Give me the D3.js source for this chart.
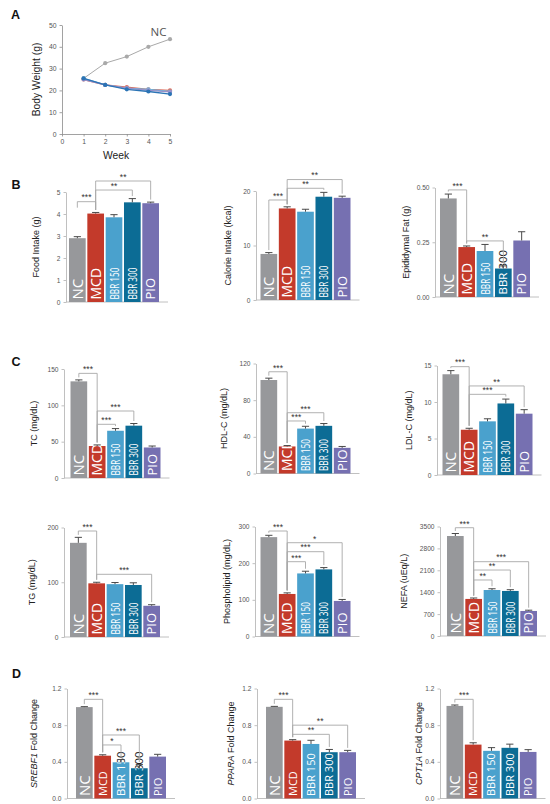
<!DOCTYPE html>
<html><head><meta charset="utf-8">
<script src="https://cdn.jsdelivr.net/npm/d3@7/dist/d3.min.js"></script>
<style>body{margin:0;background:#fff}svg{display:block}</style>
</head><body>
<svg id="fig" width="550" height="804"></svg>
<script>
// ---------- DATA ----------
const groups = ["NC", "MCD", "BBR 150", "BBR 300", "PIO"];

// Panel A: body weight by week
const weeks = [1, 2, 3, 4, 5];
const bwNC = [25.5, 32.5, 35.5, 40, 43.5];
const bwMCD = [25, 22.5, 21.5, 20.5, 20];
const bwBBR150 = [25.5, 22.5, 21, 20.5, 19.5];
const bwBBR300 = [25.5, 22.5, 20.5, 19.5, 18.3];
const bwPIO = [25, 22.5, 21, 20, 19.3];
const bwYTicks = [0, 10, 20, 30, 40, 50];
const bwXTicks = [0, 1, 2, 3, 4, 5];

// Panel B
const foodIntake = [2.9, 4.02, 3.85, 4.53, 4.49];
const foodIntakeErr = [0.07, 0.05, 0.12, 0.17, 0.05];
const foodIntakeSig = [["NC", "MCD", "***", 4.56, 6], ["MCD", "BBR 300", "**", 5.09], ["MCD", "PIO", "**", 5.5]];
const foodTicks = [0, 1, 2, 3, 4, 5];

const calorieIntake = [8.45, 16.8, 16.2, 18.95, 18.75];
const calorieIntakeErr = [0.25, 0.3, 0.45, 0.8, 0.3];
const calorieIntakeSig = [["NC", "MCD", "***", 18.35], ["MCD", "BBR 300", "**", 20.5], ["MCD", "PIO", "**", 22.1]];
const calorieTicks = [0, 10, 20];

const epiFat = [0.45, 0.228, 0.21, 0.13, 0.258];
const epiFatErr = [0.02, 0.005, 0.03, 0.012, 0.04];
const epiFatSig = [["NC", "MCD", "***", 0.489], ["MCD", "BBR 300", "**", 0.256]];
const epiTicks = [0, 0.25, 0.5];

// Panel C
const tc = [133, 44, 65, 72, 42];
const tcErr = [2, 1.5, 3, 3, 2];
const tcSig = [["NC", "MCD", "***", 144], ["MCD", "BBR 300", "***", 92.2], ["MCD", "BBR 150", "***", 73.9]];
const tcTicks = [0, 50, 100, 150];

const hdl = [102, 29.5, 49, 52, 28];
const hdlErr = [2, 1, 2.5, 2.5, 1.5];
const hdlSig = [["NC", "MCD", "***", 111], ["MCD", "BBR 300", "***", 66.3], ["MCD", "BBR 150", "***", 57.3]];
const hdlTicks = [0, 40, 80, 120];

const ldl = [13.8, 6.2, 7.35, 9.8, 8.4];
const ldlErr = [0.5, 0.2, 0.35, 0.6, 0.55];
const ldlSig = [["NC", "MCD", "***", 14.84], ["MCD", "PIO", "**", 12.2], ["MCD", "BBR 300", "***", 11.05]];
const ldlTicks = [0, 5, 10, 15];

const tg = [172, 98, 96.5, 95, 57];
const tgErr = [10, 2, 3, 4, 2];
const tgSig = [["NC", "MCD", "***", 193.6], ["MCD", "PIO", "***", 114.5]];
const tgTicks = [0, 100, 200];

const phospholipid = [271, 116, 172, 183, 97];
const phospholipidErr = [5, 3, 6, 5, 4];
const phospholipidSig = [["NC", "MCD", "***", 287.7], ["MCD", "PIO", "*", 255.8], ["MCD", "BBR 300", "***", 231.3], ["MCD", "BBR 150", "***", 204]];
const phospholipidTicks = [0, 100, 200, 300];

const nefa = [3196, 1185, 1470, 1440, 800];
const nefaErr = [80, 30, 40, 40, 25];
const nefaSig = [["NC", "MCD", "***", 3461], ["MCD", "PIO", "***", 2375], ["MCD", "BBR 300", "**", 2109], ["MCD", "BBR 150", "**", 1790]];
const nefaTicks = [0, 700, 1400, 2100, 2800, 3500];

// Panel D
const srebf1 = [0.997, 0.467, 0.395, 0.33, 0.457];
const srebf1Err = [0.005, 0.01, 0.03, 0.04, 0.025];
const srebf1Sig = [["NC", "MCD", "***", 1.082], ["MCD", "BBR 300", "***", 0.693], ["MCD", "BBR 150", "*", 0.584]];
const ppara = [1.0, 0.632, 0.595, 0.505, 0.505];
const pparaErr = [0.005, 0.01, 0.04, 0.03, 0.02];
const pparaSig = [["NC", "MCD", "***", 1.082], ["MCD", "PIO", "**", 0.8], ["MCD", "BBR 300", "**", 0.70]];
const cpt1a = [1.01, 0.588, 0.52, 0.553, 0.508];
const cpt1aErr = [0.01, 0.02, 0.035, 0.04, 0.025];
const cpt1aSig = [["NC", "MCD", "***", 1.082]];
const foldTicks = [0, 0.4, 0.8, 1.2];

// ---------- STYLE ----------
const colors = ["#97989b", "#c33a2b", "#4aa1cd", "#0c6c95", "#7670b1"];
const lineColors = {NC: "#a9a9a9", MCD: "#de6a58", "BBR 150": "#6db5de", "BBR 300": "#2b74b5", PIO: "#9890c9"};
const SANS = "'Liberation Sans', Arial, sans-serif";
const LBL = "'Open Sans', 'Liberation Sans', sans-serif";
const svg = d3.select("#fig");

// panel letters
[["A", 11, 19], ["B", 11.5, 188.5], ["C", 11.5, 366], ["D", 12, 678]].forEach(([t, x, y]) =>
  svg.append("text").attr("x", x).attr("y", y).text(t)
    .attr("font-family", SANS).attr("font-weight", "bold").attr("font-size", 12.5).attr("fill", "#111"));

// ---------- PANEL A ----------
(function () {
  const x = d3.scaleLinear().domain([0, 5]).range([62, 170]);
  const y = d3.scaleLinear().domain([0, 50]).range([134, 25]);
  const gA = svg.append("g");
  const yAx = gA.append("g").attr("transform", `translate(${x(0)},0)`)
    .call(d3.axisLeft(y).tickValues(bwYTicks).tickSize(2.5).tickSizeOuter(0).tickFormat(d3.format("d")));
  const xAx = gA.append("g").attr("transform", `translate(0,${y(0)})`)
    .call(d3.axisBottom(x).tickValues(bwXTicks).tickSize(2.5).tickSizeOuter(0).tickFormat(d3.format("d")));
  [yAx, xAx].forEach(a => {
    a.selectAll("path,line").attr("stroke", "#8a8a8a").attr("stroke-width", 0.8);
    a.selectAll("text").attr("font-family", SANS).attr("font-size", 6.8).attr("fill", "#555");
  });
  const series = [["NC", bwNC], ["MCD", bwMCD], ["BBR 150", bwBBR150], ["PIO", bwPIO], ["BBR 300", bwBBR300]];
  const line = d3.line().x((d, i) => x(weeks[i])).y(d => y(d));
  series.forEach(([name, vals]) => {
    const c = lineColors[name];
    gA.append("path").attr("d", line(vals)).attr("fill", "none").attr("stroke", c).attr("stroke-width", name === "NC" ? 1 : 1.3);
    gA.selectAll(null).data(vals).enter().append("circle")
      .attr("cx", (d, i) => x(weeks[i])).attr("cy", d => y(d)).attr("r", 2.1).attr("fill", c);
  });
  gA.append("text").attr("x", x(4.1)).attr("y", y(44.8)).text("NC")
    .attr("font-family", LBL).attr("font-size", 11.5).attr("fill", "#555");
  gA.append("text").attr("transform", `translate(40,${(y(0) + y(50)) / 2}) rotate(-90)`)
    .attr("text-anchor", "middle").text("Body Weight (g)")
    .attr("font-family", SANS).attr("font-size", 10.3).attr("fill", "#222");
  gA.append("text").attr("x", x(2.5)).attr("y", 158.5).attr("text-anchor", "middle").text("Week")
    .attr("font-family", SANS).attr("font-size", 10.3).attr("fill", "#222");
})();

// ---------- BAR CHARTS ----------
const rowBC = {sizes: [15, 14, 12.5, 12.5, 13], lens: [null, null, 32, 32, null], dark: false};
const charts = [
  {v: foodIntake, e: foodIntakeErr, s: foodIntakeSig, t: foodTicks, f: "d", lab: ["Food Intake (g)"], ax: 66, x0: 69, top: 192, bot: 302, lx: 39, st: rowBC},
  {v: calorieIntake, e: calorieIntakeErr, s: calorieIntakeSig, t: calorieTicks, f: "d", lab: ["Calorie Intake (kcal)"], ax: 256, x0: 260.5, top: 191, bot: 300, lx: 231, st: rowBC},
  {v: epiFat, e: epiFatErr, s: epiFatSig, t: epiTicks, f: ".2f", lab: ["Epididymal Fat (g)"], ax: 435, x0: 440, top: 187.5, bot: 297, lx: 409,
    st: {sizes: [15, 14, 12.5, 11.5, 13], lens: [null, null, 32, null, null], dark: true}},
  {v: tc, e: tcErr, s: tcSig, t: tcTicks, f: "d", lab: ["TC (mg/dL)"], ax: 64, x0: 70.5, top: 369, bot: 478, lx: 37, st: rowBC},
  {v: hdl, e: hdlErr, s: hdlSig, t: hdlTicks, f: "d", lab: ["HDL-C (mg/dL)"], ax: 256, x0: 260.5, top: 363.5, bot: 473.5, lx: 227, st: rowBC},
  {v: ldl, e: ldlErr, s: ldlSig, t: ldlTicks, f: "d", lab: ["LDL-C (mg/dL)"], ax: 437, x0: 442.5, top: 365.5, bot: 475, lx: 412, st: rowBC},
  {v: tg, e: tgErr, s: tgSig, t: tgTicks, f: "d", lab: ["TG (mg/dL)"], ax: 64, x0: 70, top: 527.5, bot: 637, lx: 35, st: rowBC},
  {v: phospholipid, e: phospholipidErr, s: phospholipidSig, t: phospholipidTicks, f: "d", lab: ["Phospholipid (mg/dL)"], ax: 255, x0: 260.5, top: 526.5, bot: 636.5, lx: 230, st: rowBC},
  {v: nefa, e: nefaErr, s: nefaSig, t: nefaTicks, f: "d", lab: ["NEFA (uEq/L)"], ax: 440, x0: 447, top: 526.5, bot: 636, lx: 407, st: rowBC},
  {v: srebf1, e: srebf1Err, s: srebf1Sig, t: foldTicks, f: ".1f", lab: ["SREBF1", " Fold Change"], ax: 67, x0: 76, top: 688.5, bot: 798.5, lx: 37,
    st: {sizes: [15, 11, 11.5, 11.5, 11], lens: [null, null, null, null, null], dark: true}},
  {v: ppara, e: pparaErr, s: pparaSig, t: foldTicks, f: ".1f", lab: ["PPARA", " Fold Change"], ax: 257, x0: 266, top: 688.5, bot: 798.5, lx: 234,
    st: {sizes: [15, 11, 11, 11, 11], lens: [null, null, null, null, null], dark: false}},
  {v: cpt1a, e: cpt1aErr, s: cpt1aSig, t: foldTicks, f: ".1f", lab: ["CPT1A", " Fold Change"], ax: 440, x0: 446.5, top: 688.5, bot: 798.5, lx: 422,
    st: {sizes: [15, 11, 11, 11, 11], lens: [null, null, null, null, null], dark: false}}
];

const defs = svg.append("defs");
charts.forEach((c, ci) => {
  const g = svg.append("g");
  const y = d3.scaleLinear().domain([0, c.t[c.t.length - 1]]).range([c.bot, c.top]);
  const x = d3.scaleBand().domain(groups).range([c.x0, c.x0 + 90]).paddingInner(0.09);
  const bw = x.bandwidth();

  // axes
  const yAx = g.append("g").attr("transform", `translate(${c.ax},0)`)
    .call(d3.axisLeft(y).tickValues(c.t).tickSize(2.5).tickSizeOuter(0).tickFormat(d3.format(c.f)));
  yAx.selectAll("path,line").attr("stroke", "#b9b9b9").attr("stroke-width", 0.9);
  yAx.selectAll("text").attr("font-family", SANS).attr("font-size", 6.6).attr("fill", "#555");
  g.append("line").attr("x1", c.ax).attr("x2", x.range()[1] + 9).attr("y1", y(0)).attr("y2", y(0))
    .attr("stroke", "#b9b9b9").attr("stroke-width", 0.9);

  // y label
  const yl = g.append("text").attr("transform", `translate(${c.lx},${(c.top + c.bot) / 2}) rotate(-90)`)
    .attr("text-anchor", "middle").attr("font-family", SANS).attr("font-size", 9).attr("fill", "#222");
  if (c.lab.length === 2) {
    yl.append("tspan").attr("font-style", "italic").text(c.lab[0]);
    yl.append("tspan").text(c.lab[1]);
  } else yl.text(c.lab[0]);

  groups.forEach((name, i) => {
    const bx = x(name), by = y(c.v[i]), bh = y(0) - by;
    const cx = bx + bw / 2;
    const mkLabel = (parent, fill) => {
      const t = parent.append("text").attr("transform", `translate(${cx},${y(0) - 2.5}) rotate(-90)`)
        .attr("dy", "0.36em").attr("font-family", LBL).attr("font-size", c.st.sizes[i])
        .attr("fill", fill).text(name);
      if (c.st.lens[i]) t.attr("textLength", c.st.lens[i]).attr("lengthAdjust", "spacingAndGlyphs");
      return t;
    };
    if (c.st.dark) mkLabel(g, "#222");
    g.append("rect").attr("x", bx).attr("y", by).attr("width", bw).attr("height", bh).attr("fill", colors[i]);
    const cid = `clip${ci}_${i}`;
    defs.append("clipPath").attr("id", cid).append("rect")
      .attr("x", bx).attr("y", by).attr("width", bw).attr("height", bh);
    const cg = g.append("g").attr("clip-path", `url(#${cid})`);
    mkLabel(cg, "#fff");
    // error bar
    const ye = y(c.v[i] + c.e[i]);
    g.append("path").attr("d", `M${cx},${by}V${ye}M${cx - 3.6},${ye}H${cx + 3.6}`)
      .attr("stroke", "#4a4a4a").attr("stroke-width", 1).attr("fill", "none");
  });

  // significance brackets
  c.s.forEach(([a, b, txt, lvl, legA]) => {
    const ia = groups.indexOf(a), ib = groups.indexOf(b);
    const xa = x(a) + bw / 2, xb = x(b) + bw / 2, yb0 = y(lvl);
    const ya = legA ? yb0 + legA : y(c.v[ia] + c.e[ia]) - 2.5;
    const yb = y(c.v[ib] + c.e[ib]) - 2.5;
    g.append("path").attr("d", `M${xa},${ya}V${yb0}H${xb}V${yb}`)
      .attr("fill", "none").attr("stroke", "#a8a8a8").attr("stroke-width", 0.9);
    g.append("text").attr("x", (xa + xb) / 2).attr("y", yb0 - 1.2).attr("text-anchor", "middle")
      .attr("font-family", SANS).attr("font-size", 8.5).attr("fill", "#333").text(txt);
  });
});
</script>
</body></html>
